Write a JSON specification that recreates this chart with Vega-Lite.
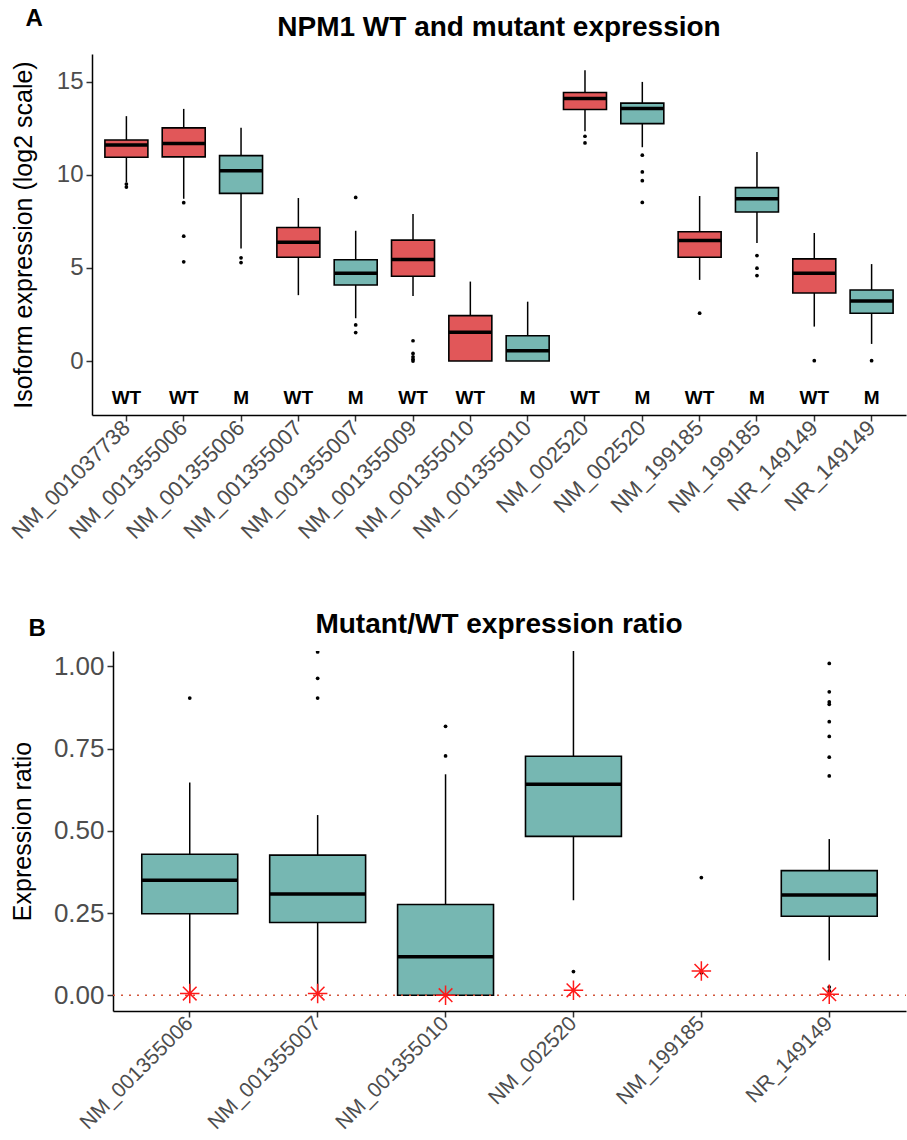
{
  "$schema": "https://vega.github.io/schema/vega-lite/v6.json",
  "padding": {"left": 7, "top": 7, "right": 0, "bottom": 0},
  "background": "white",
  "config": {
    "font": "Liberation Sans",
    "view": {"stroke": null},
    "axis": {"grid": false, "domainColor": "black", "domainWidth": 1.5, "tickColor": "#333333", "tickWidth": 1.5, "tickSize": 6, "labelColor": "#4D4D4D", "titleColor": "black", "titleFontWeight": "normal", "labelPadding": 3},
    "title": {"fontWeight": "bold", "color": "black"}
  },
  "datasets": {
    "boxA": [
      {"key": "NM_001037738 WT", "type": "WT", "lo": 9.6, "q1": 10.95, "med": 11.61, "q3": 11.88, "hi": 13.16},
      {"key": "NM_001355006 WT", "type": "WT", "lo": 8.72, "q1": 10.97, "med": 11.69, "q3": 12.53, "hi": 13.55},
      {"key": "NM_001355006 M", "type": "M", "lo": 6.05, "q1": 9.01, "med": 10.23, "q3": 11.04, "hi": 12.53},
      {"key": "NM_001355007 WT", "type": "WT", "lo": 3.54, "q1": 5.58, "med": 6.39, "q3": 7.18, "hi": 8.76},
      {"key": "NM_001355007 M", "type": "M", "lo": 2.3, "q1": 4.09, "med": 4.72, "q3": 5.44, "hi": 7.0},
      {"key": "NM_001355009 WT", "type": "WT", "lo": 3.5, "q1": 4.56, "med": 5.46, "q3": 6.5, "hi": 7.9},
      {"key": "NM_001355010 WT", "type": "WT", "lo": 0, "q1": 0, "med": 1.55, "q3": 2.44, "hi": 4.27},
      {"key": "NM_001355010 M", "type": "M", "lo": 0, "q1": 0, "med": 0.55, "q3": 1.36, "hi": 3.19},
      {"key": "NM_002520 WT", "type": "WT", "lo": 12.35, "q1": 13.52, "med": 14.11, "q3": 14.43, "hi": 15.63},
      {"key": "NM_002520 M", "type": "M", "lo": 11.49, "q1": 12.76, "med": 13.57, "q3": 13.86, "hi": 15.0},
      {"key": "NM_199185 WT", "type": "WT", "lo": 4.36, "q1": 5.58, "med": 6.48, "q3": 6.95, "hi": 8.87},
      {"key": "NM_199185 M", "type": "M", "lo": 6.34, "q1": 8.01, "med": 8.72, "q3": 9.32, "hi": 11.24},
      {"key": "NR_149149 WT", "type": "WT", "lo": 1.85, "q1": 3.66, "med": 4.72, "q3": 5.49, "hi": 6.88},
      {"key": "NR_149149 M", "type": "M", "lo": 0.92, "q1": 2.57, "med": 3.23, "q3": 3.82, "hi": 5.21}
    ],
    "outA": [
      {"key": "NM_001037738 WT", "v": 9.51}, {"key": "NM_001037738 WT", "v": 9.35},
      {"key": "NM_001355006 WT", "v": 8.51}, {"key": "NM_001355006 WT", "v": 6.71}, {"key": "NM_001355006 WT", "v": 5.33},
      {"key": "NM_001355006 M", "v": 5.55}, {"key": "NM_001355006 M", "v": 5.29},
      {"key": "NM_001355007 M", "v": 8.79}, {"key": "NM_001355007 M", "v": 1.94}, {"key": "NM_001355007 M", "v": 1.53},
      {"key": "NM_001355009 WT", "v": 1.09}, {"key": "NM_001355009 WT", "v": 0.41}, {"key": "NM_001355009 WT", "v": 0.23}, {"key": "NM_001355009 WT", "v": 0.1}, {"key": "NM_001355009 WT", "v": 0.0},
      {"key": "NM_002520 WT", "v": 12.08}, {"key": "NM_002520 WT", "v": 11.72},
      {"key": "NM_002520 M", "v": 11.06}, {"key": "NM_002520 M", "v": 10.16}, {"key": "NM_002520 M", "v": 9.69}, {"key": "NM_002520 M", "v": 8.52},
      {"key": "NM_199185 WT", "v": 2.57},
      {"key": "NM_199185 M", "v": 5.67}, {"key": "NM_199185 M", "v": 4.99}, {"key": "NM_199185 M", "v": 4.59},
      {"key": "NR_149149 WT", "v": 0.02},
      {"key": "NR_149149 M", "v": 0.02}
    ],
    "boxB": [
      {"key": "NM_001355006", "lo": 0.0, "q1": 0.248, "med": 0.35, "q3": 0.429, "hi": 0.647},
      {"key": "NM_001355007", "lo": 0.0, "q1": 0.221, "med": 0.308, "q3": 0.426, "hi": 0.548},
      {"key": "NM_001355010", "lo": 0.0, "q1": 0.0, "med": 0.117, "q3": 0.276, "hi": 0.672},
      {"key": "NM_002520", "lo": 0.289, "q1": 0.483, "med": 0.642, "q3": 0.727, "hi": 1.12},
      {"key": "NR_149149", "lo": 0.106, "q1": 0.24, "med": 0.305, "q3": 0.379, "hi": 0.475}
    ],
    "outB": [
      {"key": "NM_001355006", "v": 0.904},
      {"key": "NM_001355007", "v": 1.044}, {"key": "NM_001355007", "v": 0.964}, {"key": "NM_001355007", "v": 0.904},
      {"key": "NM_001355010", "v": 0.818}, {"key": "NM_001355010", "v": 0.728},
      {"key": "NM_002520", "v": 0.072},
      {"key": "NM_199185", "v": 0.358}, {"key": "NM_199185", "v": 0.068},
      {"key": "NR_149149", "v": 1.009}, {"key": "NR_149149", "v": 0.923}, {"key": "NR_149149", "v": 0.892}, {"key": "NR_149149", "v": 0.885}, {"key": "NR_149149", "v": 0.832}, {"key": "NR_149149", "v": 0.787}, {"key": "NR_149149", "v": 0.724}, {"key": "NR_149149", "v": 0.667}, {"key": "NR_149149", "v": 0.025}, {"key": "NR_149149", "v": 0.013}
    ],
    "starB": [
      {"key": "NM_001355006", "v": 0.005},
      {"key": "NM_001355007", "v": 0.005},
      {"key": "NM_001355010", "v": 0.0},
      {"key": "NM_002520", "v": 0.015},
      {"key": "NM_199185", "v": 0.074},
      {"key": "NR_149149", "v": 0.003}
    ]
  },
  "concat": [
    {
      "title": {"text": "A", "anchor": "start", "frame": "bounds", "fontSize": 24, "offset": -17, "dx": 18},
      "vconcat": [
        {
          "title": {"text": "NPM1 WT and mutant expression", "fontSize": 28, "anchor": "middle", "offset": 12},
          "width": 814,
          "height": 361,
          "encoding": {
            "x": {"field": "key", "type": "nominal", "title": null,
              "scale": {"domain": ["NM_001037738 WT", "NM_001355006 WT", "NM_001355006 M", "NM_001355007 WT", "NM_001355007 M", "NM_001355009 WT", "NM_001355010 WT", "NM_001355010 M", "NM_002520 WT", "NM_002520 M", "NM_199185 WT", "NM_199185 M", "NR_149149 WT", "NR_149149 M"], "paddingInner": 0, "paddingOuter": 0.1},
              "axis": {"labelAngle": -45, "labelAlign": "right", "labelBaseline": "middle", "labelFontSize": 22, "labelExpr": "split(datum.label, ' ')[0]"}}
          },
          "layer": [
            {
              "data": {"name": "boxA"},
              "mark": {"type": "rule", "stroke": "black", "strokeWidth": 1.5},
              "encoding": {
                "y": {"field": "lo", "type": "quantitative", "scale": {"domain": [-2.9, 16.5], "nice": false, "zero": false},
                  "axis": {"values": [0, 5, 10, 15], "labelFontSize": 24, "title": "Isoform expression (log2 scale)", "titleFontSize": 25, "titlePadding": 20}},
                "y2": {"field": "hi"}
              }
            },
            {
              "data": {"name": "boxA"},
              "mark": {"type": "bar", "width": {"band": 0.75}, "stroke": "black", "strokeWidth": 1.6},
              "encoding": {
                "y": {"field": "q1", "type": "quantitative"},
                "y2": {"field": "q3"},
                "fill": {"field": "type", "type": "nominal", "legend": null, "scale": {"domain": ["WT", "M"], "range": ["#E15759", "#76B7B2"]}}
              }
            },
            {
              "data": {"name": "boxA"},
              "mark": {"type": "bar", "width": {"band": 0.75}, "stroke": "black", "strokeWidth": 3.5, "fill": "black"},
              "encoding": {
                "y": {"field": "med", "type": "quantitative"},
                "y2": {"field": "med"}
              }
            },
            {
              "data": {"name": "outA"},
              "mark": {"type": "point", "filled": true, "color": "black", "size": 14, "opacity": 1},
              "encoding": {
                "y": {"field": "v", "type": "quantitative"}
              }
            },
            {
              "data": {"name": "boxA"},
              "mark": {"type": "text", "fontSize": 19, "fontWeight": "bold", "color": "black", "baseline": "middle"},
              "encoding": {
                "y": {"datum": -2},
                "text": {"field": "type"}
              }
            }
          ]
        }
      ]
    },
    {
      "title": {"text": "B", "anchor": "start", "frame": "bounds", "fontSize": 24, "offset": -30, "dx": 18},
      "vconcat": [
        {
          "title": {"text": "Mutant/WT expression ratio", "fontSize": 28, "anchor": "middle", "offset": 12},
          "width": 814,
          "height": 360,
          "encoding": {
            "x": {"field": "key", "type": "nominal", "title": null,
              "scale": {"domain": ["NM_001355006", "NM_001355007", "NM_001355010", "NM_002520", "NM_199185", "NR_149149"], "range": [21, 814], "paddingInner": 0, "paddingOuter": 0.1},
              "axis": {"labelAngle": -45, "labelAlign": "right", "labelBaseline": "middle", "labelFontSize": 21}}
          },
          "layer": [
            {
              "data": {"name": "boxB"},
              "mark": {"type": "rule", "stroke": "black", "strokeWidth": 1.5, "clip": true},
              "encoding": {
                "y": {"field": "lo", "type": "quantitative", "scale": {"domain": [-0.048, 1.047], "nice": false, "zero": false},
                  "axis": {"values": [0, 0.25, 0.5, 0.75, 1], "format": ".2f", "labelFontSize": 26, "title": "Expression ratio", "titleFontSize": 25, "titlePadding": 18, "offset": -21}},
                "y2": {"field": "hi"}
              }
            },
            {
              "data": {"name": "boxB"},
              "mark": {"type": "bar", "width": {"band": 0.75}, "stroke": "black", "strokeWidth": 1.6, "fill": "#76B7B2", "clip": true},
              "encoding": {
                "y": {"field": "q1", "type": "quantitative"},
                "y2": {"field": "q3"}
              }
            },
            {
              "data": {"name": "boxB"},
              "mark": {"type": "bar", "width": {"band": 0.75}, "stroke": "black", "strokeWidth": 3.5, "fill": "black", "clip": true},
              "encoding": {
                "y": {"field": "med", "type": "quantitative"},
                "y2": {"field": "med"}
              }
            },
            {
              "data": {"name": "outB"},
              "mark": {"type": "point", "filled": true, "color": "black", "size": 14, "opacity": 1, "clip": true},
              "encoding": {
                "y": {"field": "v", "type": "quantitative"}
              }
            },
            {
              "data": {"values": [{"ref": 0, "first": "NM_001355006", "last": "NR_149149"}]},
              "mark": {"type": "rule", "stroke": "#D2553A", "strokeWidth": 1.5, "strokeDash": [2, 6]},
              "encoding": {
                "y": {"field": "ref", "type": "quantitative"},
                "x": {"field": "first", "type": "nominal", "bandPosition": -0.1},
                "x2": {"field": "last", "bandPosition": 1.1}
              }
            },
            {
              "data": {"name": "starB"},
              "mark": {"type": "point", "shape": "M-1,0L1,0M0,-1L0,1M-0.7,-0.7L0.7,0.7M-0.7,0.7L0.7,-0.7", "filled": false, "stroke": "#FF1A1A", "strokeWidth": 1.5, "size": 380, "opacity": 1},
              "encoding": {
                "y": {"field": "v", "type": "quantitative"}
              }
            }
          ]
        }
      ]
    }
  ],
  "columns": 1,
  "align": "none",
  "spacing": 68
}
